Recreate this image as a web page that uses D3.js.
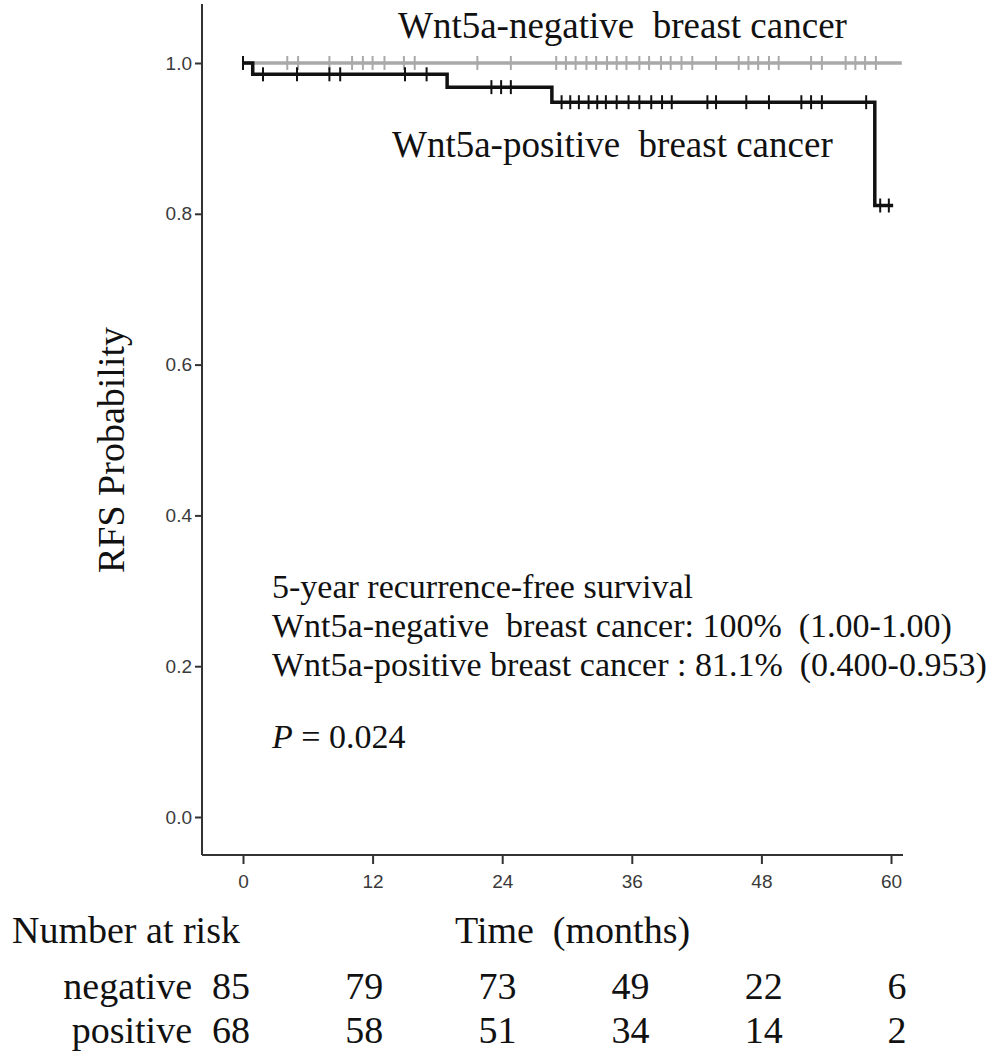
<!DOCTYPE html>
<html>
<head>
<meta charset="utf-8">
<script src="https://cdn.jsdelivr.net/npm/d3@7"></script>
<style>
  body { margin: 0; background: #fff; }
  text { white-space: pre; }
</style>
</head>
<body>
<script>
// time axis ticks (months) and y ticks
var timeTicks = [0, 12, 24, 36, 48, 60];
var probTicks = [0, 0.2, 0.4, 0.6, 0.8, 1.0];

// Kaplan-Meier steps, positive group
var posStepTimes = [0, 0.9, 18.9, 28.6, 58.5];
var posStepSurv  = [1, 0.985, 0.968, 0.948, 0.811];
var posEnd = 60.2;
var posCensor = [0, 1.85, 5.0, 8.0, 9.0, 15.0, 17.0, 23.0, 23.9, 24.8,
  29.5, 30.3, 31.1, 32.0, 32.8, 33.6, 34.6, 35.7, 36.7, 37.8, 38.8, 39.7,
  43.0, 43.8, 46.6, 48.7, 51.7, 52.6, 53.6, 57.7, 59.0, 59.8];

// negative group never drops
var negStepTimes = [0];
var negStepSurv  = [1];
var negEnd = 61;
var negCensor = [4.1, 5.1, 8.0, 10.1, 11.1, 12.0, 13.1, 14.9, 15.9, 21.7, 24.8,
  29.0, 29.9, 30.8, 31.8, 32.7, 33.7, 34.6, 35.5, 36.7, 37.6, 38.7, 39.6, 40.6,
  41.6, 43.8, 45.9, 46.8, 47.7, 48.7, 49.6, 52.6, 53.6, 55.8, 56.7, 57.6, 58.6];

// number at risk
var riskGroups = ['negative', 'positive'];
var riskNeg = [85, 79, 73, 49, 22, 6];
var riskPos = [68, 58, 51, 34, 14, 2];

var W = 990, H = 1051;
var svg = d3.select('body').append('svg').attr('width', W).attr('height', H);

var x = d3.scaleLinear().domain([0, 60]).range([243, 891]);
var y = d3.scaleLinear().domain([0, 1]).range([817, 63]);
var axisX = 202, axisY = 855;

// axes
svg.append('line').attr('x1', axisX).attr('x2', axisX).attr('y1', 4).attr('y2', axisY)
  .attr('stroke', '#333').attr('stroke-width', 2);
svg.append('line').attr('x1', axisX).attr('x2', 903).attr('y1', axisY).attr('y2', axisY)
  .attr('stroke', '#333').attr('stroke-width', 2);

var yAxis = svg.append('g').attr('transform', 'translate(' + axisX + ',0)')
  .call(d3.axisLeft(y).tickValues(probTicks).tickFormat(d3.format('.1f')).tickSize(7).tickSizeOuter(0));
var xAxis = svg.append('g').attr('transform', 'translate(0,' + axisY + ')')
  .call(d3.axisBottom(x).tickValues(timeTicks).tickSize(9).tickSizeOuter(0));
[yAxis, xAxis].forEach(function(g) {
  g.attr('font-size', null).attr('font-family', null);
  g.select('.domain').remove();
  g.selectAll('.tick line').attr('stroke', '#333').attr('stroke-width', 2);
  g.selectAll('.tick text')
    .style('font-family', 'Liberation Sans, Arial, sans-serif')
    .style('font-size', '19px').style('fill', '#3a3a3a');
});
yAxis.selectAll('.tick text').attr('x', -10);
xAxis.selectAll('.tick text').attr('y', 20);

// curves
function stepData(times, surv, end) {
  var d = times.map(function(t, i) { return [t, surv[i]]; });
  d.push([end, surv[surv.length - 1]]);
  return d;
}
function survAt(times, surv, t) {
  var s = surv[0];
  times.forEach(function(tt, i) { if (tt <= t) s = surv[i]; });
  return s;
}
var line = d3.line().x(function(d) { return x(d[0]); }).y(function(d) { return y(d[1]); })
  .curve(d3.curveStepAfter);

function drawGroup(times, surv, end, censor, color) {
  svg.append('path').datum(stepData(times, surv, end)).attr('d', line)
    .attr('fill', 'none').attr('stroke', color).attr('stroke-width', 3.5);
  svg.append('g').selectAll('line').data(censor).enter().append('line')
    .attr('x1', function(d) { return x(d); }).attr('x2', function(d) { return x(d); })
    .attr('y1', function(d) { return y(survAt(times, surv, d)) - 7; })
    .attr('y2', function(d) { return y(survAt(times, surv, d)) + 7; })
    .attr('stroke', color).attr('stroke-width', 2);
}
drawGroup(negStepTimes, negStepSurv, negEnd, negCensor, '#a9a9a9');
drawGroup(posStepTimes, posStepSurv, posEnd, posCensor, '#111');

// labels
var serif = 'Liberation Serif, Times New Roman, serif';
function txt(s, px, py, size, anchor) {
  return svg.append('text').attr('x', px).attr('y', py).attr('font-family', serif)
    .attr('font-size', size).attr('fill', '#111').attr('text-anchor', anchor || 'start').text(s);
}
txt('Wnt5a-negative  breast cancer', 398, 38, 37);
txt('Wnt5a-positive  breast cancer', 392, 157, 37);

svg.append('text').attr('transform', 'translate(124,450) rotate(-90)')
  .attr('font-family', serif).attr('font-size', 38).attr('fill', '#111')
  .attr('text-anchor', 'middle').text('RFS Probability');

txt('5-year recurrence-free survival', 272, 598, 34);
txt('Wnt5a-negative  breast cancer: 100%  (1.00-1.00)', 272, 637, 34);
txt('Wnt5a-positive breast cancer : 81.1%  (0.400-0.953)', 272, 676, 34);
var p = txt('', 272, 748, 34);
p.append('tspan').attr('font-style', 'italic').text('P');
p.append('tspan').text(' = 0.024');

txt('Number at risk', 12, 943, 38);
txt('Time  (months)', 455, 943, 38);

var riskX = d3.scaleLinear().domain([0, 60]).range([231, 897]);
var rows = [riskNeg, riskPos];
var rowY = [999, 1043];
riskGroups.forEach(function(g, i) {
  txt(g, 192, rowY[i], 38, 'end');
  svg.append('g').selectAll('text').data(rows[i]).enter().append('text')
    .attr('x', function(d, j) { return riskX(timeTicks[j]); }).attr('y', rowY[i])
    .attr('font-family', serif).attr('font-size', 38).attr('fill', '#111')
    .attr('text-anchor', 'middle').text(function(d) { return d; });
});
</script>
</body>
</html>
